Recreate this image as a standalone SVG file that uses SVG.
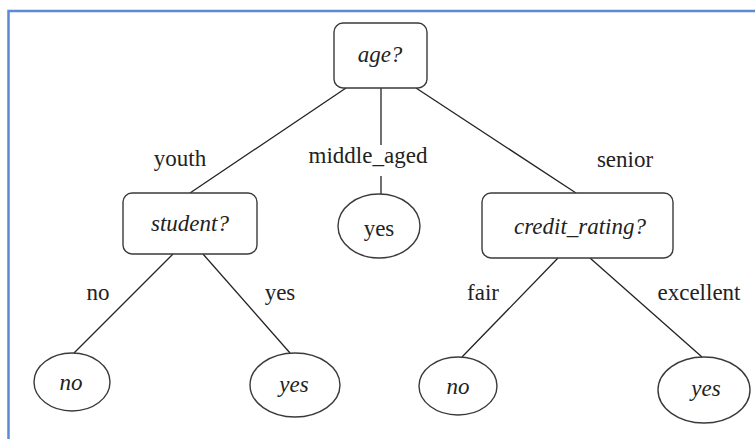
<svg xmlns="http://www.w3.org/2000/svg" width="755" height="439" viewBox="0 0 755 439">
<style>
.box{fill:#fff;stroke:#3a3a3a;stroke-width:1.4}
.leaf{fill:#fff;stroke:#3a3a3a;stroke-width:1.4}
.t{font-family:'Liberation Serif','Tinos','DejaVu Serif',serif;font-size:23px;fill:#222;text-anchor:middle}
.i{font-style:italic}
.edge{stroke:#222;stroke-width:1.3;fill:none}
</style>
<rect x="0" y="0" width="755" height="439" fill="#fff"/>
<path d="M8.5,439 V11 H755" fill="none" stroke="#5b8bd2" stroke-width="2.5"/>
<g id="connectors">
<line class="edge" x1="346" y1="88" x2="190" y2="193"/>
<line class="edge" x1="381" y1="88" x2="381" y2="145"/>
<line class="edge" x1="381" y1="176" x2="381" y2="194"/>
<line class="edge" x1="416" y1="88" x2="576" y2="193"/>
<line class="edge" x1="173" y1="254" x2="74" y2="353"/>
<line class="edge" x1="203" y1="254" x2="290" y2="353"/>
<line class="edge" x1="558" y1="258" x2="462" y2="357"/>
<line class="edge" x1="590" y1="258" x2="702" y2="357"/>
<text class="t" font-family="Liberation Serif, serif" x="180" y="166">youth</text>
<text class="t" font-family="Liberation Serif, serif" x="368" y="163">middle_aged</text>
<text class="t" font-family="Liberation Serif, serif" x="625" y="167">senior</text>
<text class="t" font-family="Liberation Serif, serif" x="98" y="300">no</text>
<text class="t" font-family="Liberation Serif, serif" x="280" y="300">yes</text>
<text class="t" font-family="Liberation Serif, serif" x="483" y="300">fair</text>
<text class="t" font-family="Liberation Serif, serif" x="699" y="300">excellent</text>
</g>
<g id="age">
<rect class="box" x="334" y="23" width="93" height="65" rx="9"/>
<text class="t i" x="380" y="62">age?</text>
</g>
<g id="student">
<rect class="box" x="123" y="193" width="134" height="61" rx="9"/>
<text class="t i" x="190" y="231">student?</text>
</g>
<g id="credit_rating">
<rect class="box" x="482" y="193" width="191" height="65" rx="9"/>
<text class="t i" x="580" y="234">credit_rating?</text>
</g>
<g id="middle_yes">
<ellipse class="leaf" cx="379" cy="226" rx="41" ry="32"/>
<text class="t" x="379" y="236">yes</text>
</g>
<g id="student_no">
<ellipse class="leaf" cx="72" cy="382" rx="38" ry="29"/>
<text class="t i" x="71" y="390">no</text>
</g>
<g id="student_yes">
<ellipse class="leaf" cx="295" cy="385" rx="45" ry="32"/>
<text class="t i" x="294" y="392">yes</text>
</g>
<g id="credit_no">
<ellipse class="leaf" cx="458" cy="386" rx="39" ry="29"/>
<text class="t i" x="458" y="394">no</text>
</g>
<g id="credit_yes">
<ellipse class="leaf" cx="704" cy="390" rx="46" ry="33"/>
<text class="t i" x="706" y="396">yes</text>
</g>
</svg>
